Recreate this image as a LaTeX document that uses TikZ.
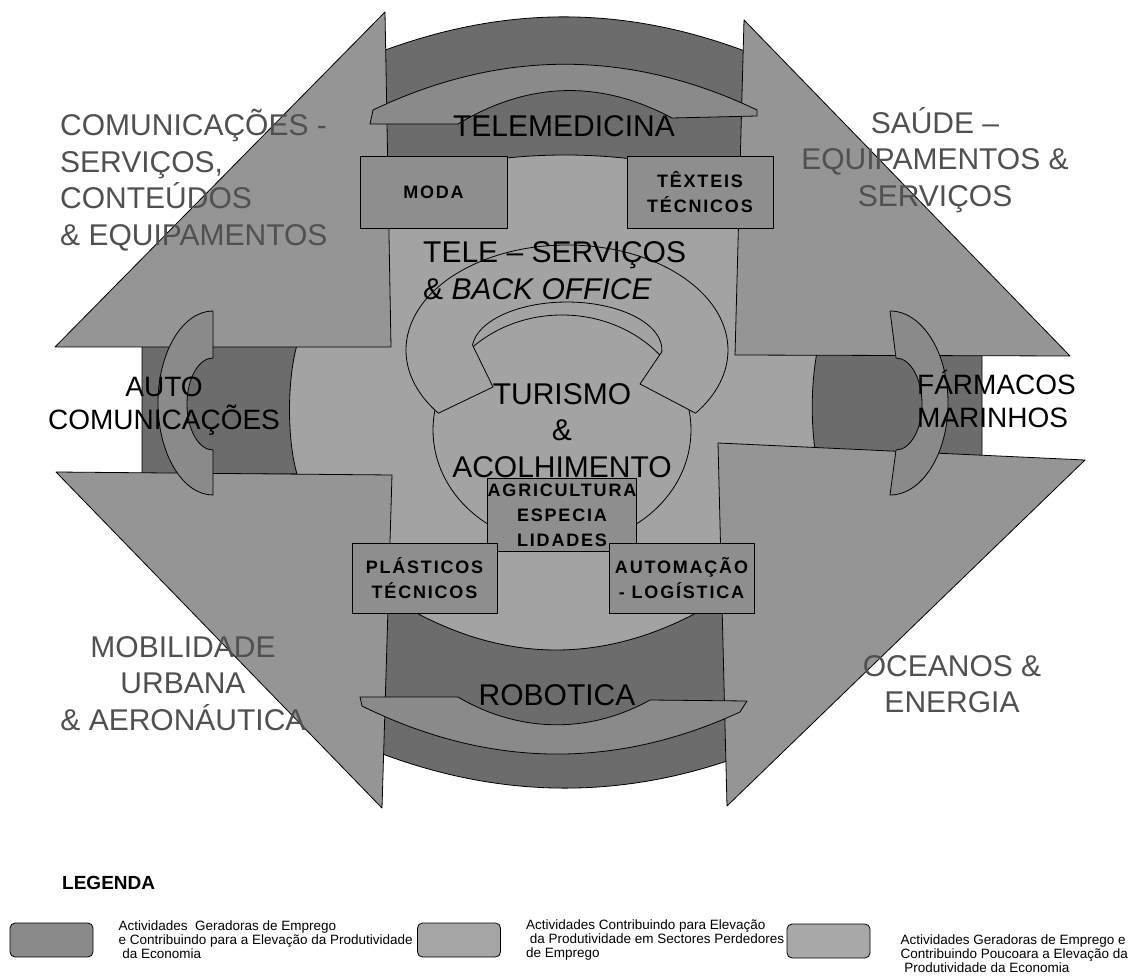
\documentclass[tikz,border=0pt]{standalone}
\usepackage{fontspec}
\setmainfont{Liberation Sans}
\usepackage{tikz}
\usetikzlibrary{positioning}
\definecolor{bandgray}{HTML}{6C6C6C}
\definecolor{arrowgray}{HTML}{959595}
\definecolor{coregray}{HTML}{A3A3A3}
\definecolor{crescentgray}{HTML}{8A8A8A}
\definecolor{tilegray}{HTML}{8E8E8E}
\definecolor{labelgray}{HTML}{505050}
\definecolor{legonegray}{HTML}{8A8A8A}
\definecolor{legtwogray}{HTML}{A5A5A5}
\definecolor{legthreegray}{HTML}{A8A8A8}
\tikzset{
  rim/.style={draw=black,line width=0.8pt,line join=round},
  darkband/.style={rim,fill=bandgray},
  bigarrow/.style={rim,fill=arrowgray},
  crescent/.style={rim,fill=crescentgray},
  coreshape/.style={rim,fill=coregray},
  tilebox/.style={rim,fill=tilegray,rectangle,inner sep=0pt,align=center,
    font=\bfseries\fontsize{18}{25}\selectfont\addfontfeature{LetterSpace=10}},
  bigtext/.style={font=\fontsize{30}{36.5}\selectfont,inner sep=0pt},
  midtext/.style={font=\fontsize{28}{33}\selectfont,inner sep=0pt},
  sectortext/.style={bigtext,text=labelgray},
  legbox/.style={draw=black,line width=0.8pt,rounded corners=5pt,
    minimum width=83pt,minimum height=34pt,inner sep=0pt},
  legtext/.style={font=\fontsize{13.5}{14}\selectfont,align=left,inner sep=0pt},
}

\begin{document}
\begin{tikzpicture}[x=1pt,y=-1pt]
\useasboundingbox (0,0) rectangle (1130,976);
% centre and the four dark bands
\fill[coregray] (280,150) rectangle (830,660);
\draw[darkband] (380,52) .. controls (505,5) and (625,5) .. (750,53) -- (750,185)
  .. controls (626,145) and (504,145) .. (380,185) -- cycle;
\draw[darkband] (383,593) .. controls (498,669) and (614,669) .. (730,593) -- (730,760)
  .. controls (613,800) and (496,797) .. (380,753) -- cycle;
\draw[darkband] (142,345) -- (297,345) .. controls (287,380) and (287,440) .. (297,474)
  -- (142,474) -- cycle;
\draw[darkband] (817,352) -- (982,352) -- (982,456) -- (815,450)
  .. controls (811,420) and (811,385) .. (817,352) -- cycle;
% arrows
\draw[bigarrow] (385,12) -- (55,347) -- (391,347) -- cycle;
\draw[bigarrow] (744,20) -- (1070,356) -- (735,355) -- cycle;
\draw[bigarrow] (56,472) -- (392,475) -- (382,808) -- cycle;
\draw[bigarrow] (718,443) -- (1085,460) -- (727,806) -- cycle;
% crescents
\draw[crescent] (757,116) -- (672,118) .. controls (601,80) and (529,81) .. (458,124)
  -- (370,124) -- (373,110) .. controls (501,49) and (629,49) .. (757,110) -- cycle;
\draw[crescent] (360,697) -- (458,697) .. controls (519,733) and (589,734) .. (650,700)
  -- (747,701) -- (740,712) .. controls (614,770) and (488,768) .. (362,706) -- cycle;
\draw[crescent] (213,311) arc[start angle=-90,end angle=-270,x radius=55,y radius=92]
  -- (213,450) arc[start angle=90,end angle=270,x radius=26,y radius=46] -- cycle;
\draw[crescent] (890,311) arc[start angle=-90,end angle=90,x radius=58,y radius=92]
  -- (896,450) arc[start angle=90,end angle=-90,x radius=26,y radius=46] -- cycle;
% torus and circle in the middle
\draw[coreshape] (562,430) ellipse[x radius=129,y radius=115];
\draw[coreshape] (438.4,413.2) arc[start angle=143,end angle=397,x radius=161,y radius=105]
  -- (640,384) -- (661.9,351.7) arc[start angle=2,end angle=-174,x radius=95,y radius=48]
  -- (493,387) -- cycle;
% boxes
\node[tilebox,minimum width=147,minimum height=72] (moda) at (433.5,192) {MODA};
\node[tilebox,minimum width=146,minimum height=72] (texteis) at (700,192) {TÊXTEIS\\TÉCNICOS};
\node[tilebox,minimum width=144,minimum height=73] (agri) at (562,515) {AGRICULTURA\\ESPECIA\\LIDADES};
\node[tilebox,minimum width=145,minimum height=70] (plasticos) at (424.5,578) {PLÁSTICOS\\TÉCNICOS};
\node[tilebox,minimum width=145,minimum height=70] (automacao) at (681.5,578) {AUTOMAÇÃO\\- LOGÍSTICA};
% labels
\node[bigtext,anchor=base] (telemed) at (564,137) {TELEMEDICINA};
\node[bigtext,anchor=north west,align=left] (teleserv) at (423,241.5) {TELE – SERVIÇOS\\\& \textit{BACK OFFICE}};
\node[bigtext,anchor=north,align=center] (turismo) at (562,383) {TURISMO\\\&\\ACOLHIMENTO};
\node[bigtext,anchor=base] (robotica) at (557,705) {ROBOTICA};
\node[midtext,anchor=north,align=center] (autocom) at (164,377) {AUTO\\COMUNICAÇÕES};
\node[midtext,anchor=north west,align=left] (farmacos) at (917,370) {FÁRMACOS\\MARINHOS};
\node[sectortext,anchor=north west,align=left] (comlabel) at (60,109) {COMUNICAÇÕES -\\SERVIÇOS,\\CONTEÚDOS\\\& EQUIPAMENTOS};
\node[sectortext,anchor=north,align=center] (saudelabel) at (935,107) {SAÚDE –\\EQUIPAMENTOS \&\\SERVIÇOS};
\node[sectortext,anchor=north,align=center] (mobilabel) at (183,636) {MOBILIDADE\\URBANA\\\& AERONÁUTICA};
\node[sectortext,anchor=north,align=center] (oceanlabel) at (952,655) {OCEANOS \&\\ENERGIA};
% legend
\node[font=\bfseries\fontsize{19}{22}\selectfont,anchor=base west,inner sep=0pt] (legtitle) at (62,889) {LEGENDA};
\node[legbox,fill=legonegray] (legone) at (51.5,940) {};
\node[legtext,right=25pt of legone] (legonetext) {Actividades\ \ Geradoras de Emprego\\e Contribuindo para a Elevação da Produtividade\\\ da Economia};
\node[legbox,fill=legtwogray] (legtwo) at (459,940) {};
\node[legtext,right=25pt of legtwo] (legtwotext) {Actividades Contribuindo para Elevação\\\ da Produtividade em Sectores Perdedores\\de Emprego};
\node[legbox,fill=legthreegray] (legthree) at (828.5,941) {};
\node[legtext,right=30pt of legthree,yshift=-13pt] (legthreetext) {Actividades Geradoras de Emprego e\\Contribuindo Poucoara a Elevação da\\\ Produtividade da Economia};
\end{tikzpicture}
\end{document}
